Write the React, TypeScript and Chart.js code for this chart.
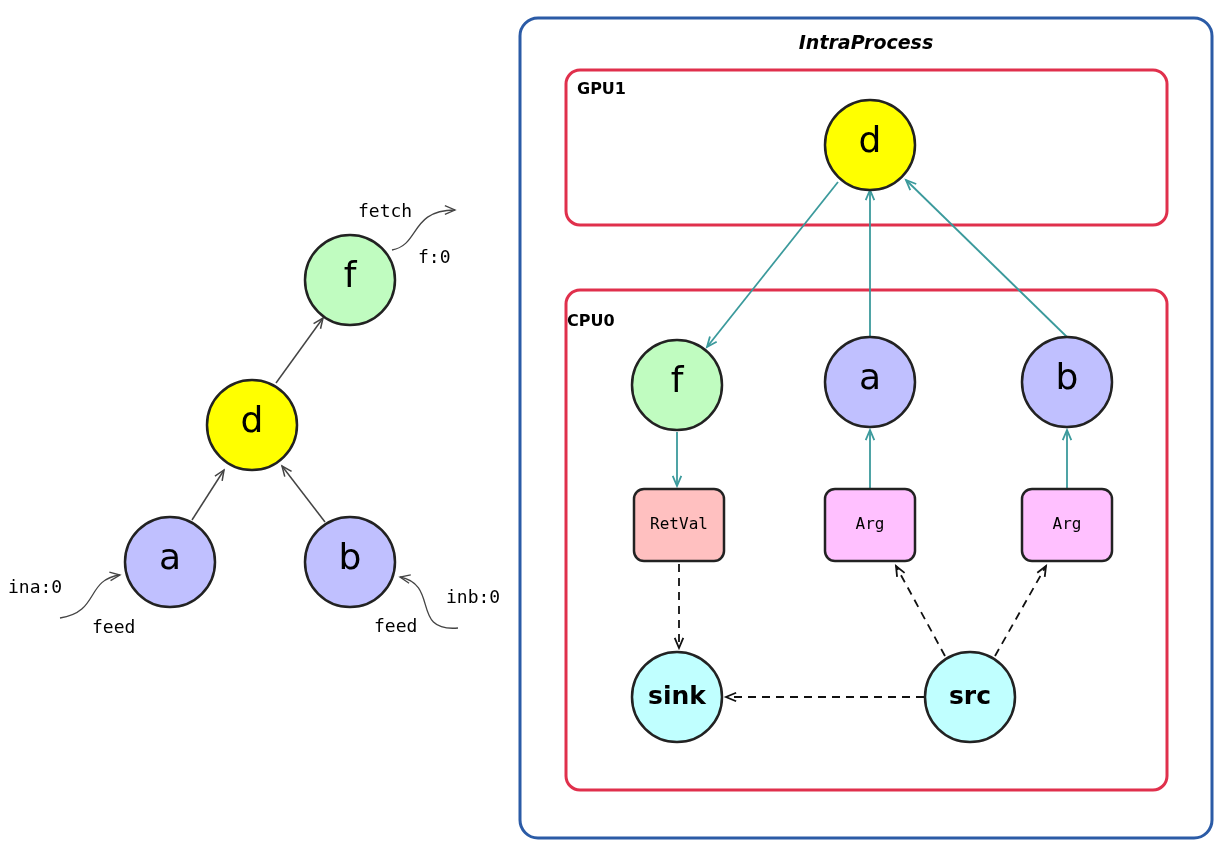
import { useEffect, useRef } from "react";
import { Chart, registerables, type Plugin } from "chart.js";

Chart.register(...registerables);

// node positions in the diagram's own coordinate space (0..1220 x 0..850)
const circleLabels = ["f", "d", "a", "b", "d", "f", "a", "b", "sink", "src"];
const circleX = [350, 252, 170, 350, 870, 677, 870, 1067, 677, 970];
const circleY = [280, 425, 562, 562, 145, 385, 382, 382, 697, 697];
const circleColors = ["#c0fcc0", "#ffff00", "#c0c0ff", "#c0c0ff", "#ffff00", "#c0fcc0", "#c0c0ff", "#c0c0ff", "#c0ffff", "#c0ffff"];

const boxLabels = ["RetVal", "Arg", "Arg"];
const boxX = [679, 870, 1067];
const boxY = [525, 525, 525];
const boxColors = ["#ffc0c0", "#ffc0ff", "#ffc0ff"];

// edges: [x1, y1, x2, y2, kind]
const edges: [number, number, number, number, string][] = [
  [192, 520, 224, 470, "plain"],
  [325, 522, 282, 466, "plain"],
  [276, 383, 323, 318, "plain"],
  [838, 182, 707, 347, "teal"],
  [870, 337, 870, 190, "teal"],
  [1067, 337, 906, 180, "teal"],
  [677, 432, 677, 486, "teal"],
  [870, 489, 870, 430, "teal"],
  [1067, 489, 1067, 430, "teal"],
  [679, 564, 679, 648, "dash"],
  [945, 656, 896, 566, "dash"],
  [995, 656, 1046, 566, "dash"],
  [924, 697, 726, 697, "dash"],
];

// feed / fetch curves: start, control1, control2, end
const curves: number[][] = [
  [60, 618, 100, 612, 85, 580, 120, 575],
  [458, 628, 410, 632, 440, 585, 400, 577],
  [392, 250, 420, 245, 410, 210, 455, 210],
];

const textLabels = ["ina:0", "feed", "inb:0", "feed", "fetch", "f:0"];
const textX = [8, 92, 446, 374, 358, 418];
const textY = [588, 628, 598, 627, 212, 258];

const groupLabels = ["IntraProcess", "GPU1", "CPU0"];
const groupRects = [
  [520, 18, 1212, 838],
  [566, 70, 1167, 225],
  [566, 290, 1167, 790],
];
const groupColors = ["#2b5ba6", "#e0304c", "#e0304c"];

function arrowHead(ctx: CanvasRenderingContext2D, x1: number, y1: number, x2: number, y2: number) {
  const a = Math.atan2(y2 - y1, x2 - x1);
  const s = 11;
  ctx.beginPath();
  ctx.moveTo(x2 - s * Math.cos(a - 0.4), y2 - s * Math.sin(a - 0.4));
  ctx.lineTo(x2, y2);
  ctx.lineTo(x2 - s * Math.cos(a + 0.4), y2 - s * Math.sin(a + 0.4));
  ctx.stroke();
}

const diagramPlugin: Plugin<"scatter"> = {
  id: "diagram",
  beforeDatasetsDraw(chart) {
    const ctx = chart.ctx;
    const sx = chart.scales.x;
    const sy = chart.scales.y;
    const px = (v: number) => sx.getPixelForValue(v);
    const py = (v: number) => sy.getPixelForValue(v);
    ctx.save();
    groupRects.forEach((r, i) => {
      ctx.strokeStyle = groupColors[i];
      ctx.lineWidth = 3;
      ctx.beginPath();
      ctx.roundRect(px(r[0]), py(r[1]), px(r[2]) - px(r[0]), py(r[3]) - py(r[1]), i === 0 ? 18 : 14);
      ctx.stroke();
    });
    ctx.fillStyle = "#000";
    ctx.font = "italic bold 19px 'DejaVu Sans'";
    ctx.textAlign = "center";
    ctx.textBaseline = "middle";
    ctx.fillText(groupLabels[0], px(866), py(44));
    ctx.font = "bold 16px 'DejaVu Sans'";
    ctx.textAlign = "left";
    ctx.fillText(groupLabels[1], px(577), py(90));
    ctx.fillText(groupLabels[2], px(567), py(322));

    edges.forEach(([x1, y1, x2, y2, kind]) => {
      ctx.strokeStyle = kind === "teal" ? "#3b9a9c" : kind === "dash" ? "#111" : "#444";
      ctx.lineWidth = kind === "plain" ? 1.5 : 1.8;
      ctx.setLineDash(kind === "dash" ? [8, 6] : []);
      ctx.beginPath();
      ctx.moveTo(px(x1), py(y1));
      ctx.lineTo(px(x2), py(y2));
      ctx.stroke();
      ctx.setLineDash([]);
      arrowHead(ctx, px(x1), py(y1), px(x2), py(y2));
    });
    curves.forEach((c) => {
      ctx.strokeStyle = "#444";
      ctx.lineWidth = 1.3;
      ctx.beginPath();
      ctx.moveTo(px(c[0]), py(c[1]));
      ctx.bezierCurveTo(px(c[2]), py(c[3]), px(c[4]), py(c[5]), px(c[6]), py(c[7]));
      ctx.stroke();
      arrowHead(ctx, px(c[4]), py(c[5]), px(c[6]), py(c[7]));
    });
    ctx.font = "18px 'DejaVu Sans Mono'";
    ctx.textAlign = "left";
    textLabels.forEach((t, i) => ctx.fillText(t, px(textX[i]), py(textY[i])));

    boxLabels.forEach((t, i) => {
      const x = px(boxX[i]);
      const y = py(boxY[i]);
      ctx.fillStyle = boxColors[i];
      ctx.strokeStyle = "#222";
      ctx.lineWidth = 2.5;
      ctx.beginPath();
      ctx.roundRect(x - 45, y - 36, 90, 72, 10);
      ctx.fill();
      ctx.stroke();
      ctx.fillStyle = "#000";
      ctx.font = "16px 'DejaVu Sans Mono'";
      ctx.textAlign = "center";
      ctx.fillText(t, x, y);
    });
    ctx.restore();
  },
  afterDatasetsDraw(chart) {
    const ctx = chart.ctx;
    const meta = chart.getDatasetMeta(0);
    ctx.save();
    ctx.fillStyle = "#000";
    ctx.textAlign = "center";
    ctx.textBaseline = "middle";
    meta.data.forEach((pt, i) => {
      const t = circleLabels[i];
      ctx.font = t.length > 1 ? "bold 25px 'DejaVu Sans'" : "36px 'DejaVu Sans'";
      ctx.fillText(t, pt.x, pt.y + (t.length > 1 ? 0 : -2));
    });
    ctx.restore();
  },
};

export default function App() {
  const canvasRef = useRef<HTMLCanvasElement | null>(null);

  useEffect(() => {
    const canvas = canvasRef.current;
    if (!canvas) return;
    const chart = new Chart(canvas, {
      type: "scatter",
      data: {
        datasets: [
          {
            data: circleX.map((x, i) => ({ x, y: circleY[i] })),
            backgroundColor: circleColors,
            borderColor: "#222",
            borderWidth: 2.5,
            pointRadius: 45,
            pointHoverRadius: 45,
            clip: false,
          },
        ],
      },
      options: {
        animation: false,
        responsive: false,
        layout: { padding: 0, autoPadding: false },
        plugins: { legend: { display: false }, tooltip: { enabled: false } },
        events: [],
        scales: {
          x: { type: "linear", min: 0, max: 1220, display: false },
          y: { type: "linear", min: 0, max: 850, reverse: true, display: false },
        },
      },
      plugins: [diagramPlugin],
    });
    return () => chart.destroy();
  }, []);

  return (
    <div style={{ position: "fixed", left: 0, top: 0, width: 1220, height: 850, background: "#fff" }}>
      <canvas ref={canvasRef} width={1220} height={850} />
    </div>
  );
}
